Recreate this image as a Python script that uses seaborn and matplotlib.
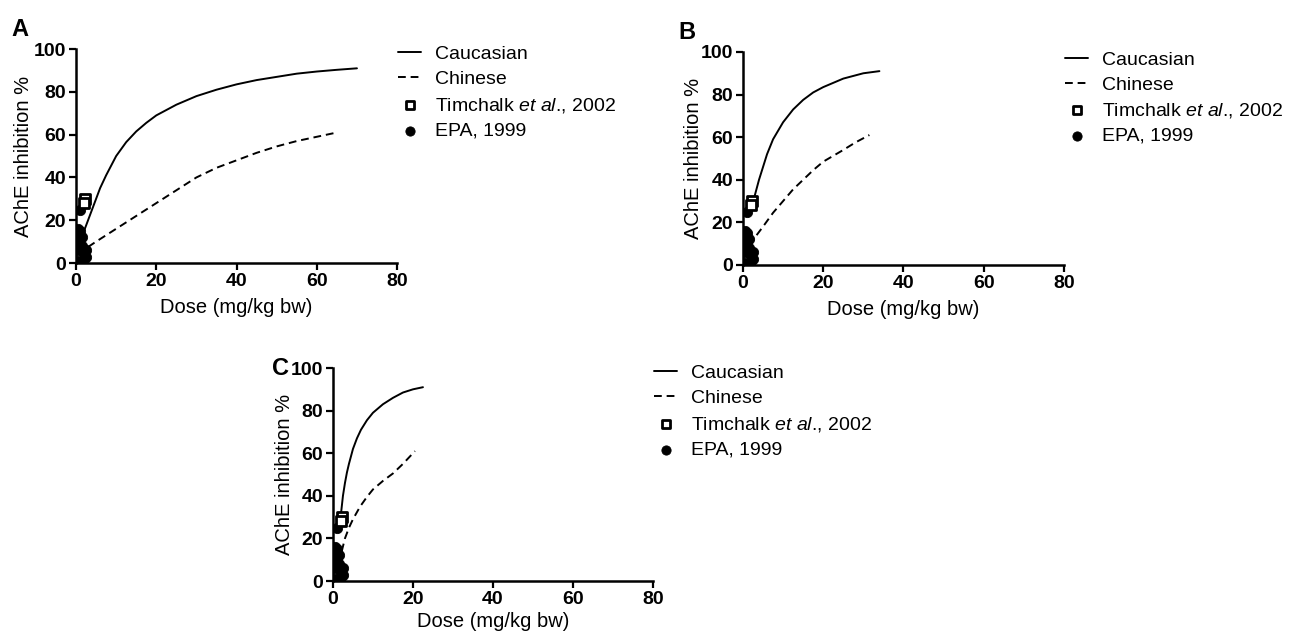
import matplotlib
matplotlib.use('Agg')
import matplotlib.pyplot as plt
import seaborn as sns

# model curves (dose mg/kg bw, AChE inhibition %)
cau_dose_a = [2, 2.5, 3, 4, 5, 6, 7.5, 10, 12.5, 15, 17.5, 20, 25, 30, 35, 40,
              45, 50, 55, 60, 65, 70]
cau_inh_a = [15, 17.5, 20, 25, 30, 35, 41, 50, 56.5, 61.5, 65.5, 69, 74, 78,
             81, 83.5, 85.5, 87, 88.5, 89.5, 90.3, 91]
chi_dose_a = [3, 5, 7.5, 10, 15, 20, 25, 30, 35, 40, 45, 50, 55, 60, 65]
chi_inh_a = [7.5, 10, 13, 16, 22, 28, 34, 40, 44.5, 48, 51.5, 54.5, 57, 59, 61]

cau_dose_b = [2.3, 3, 4, 5, 6, 7.5, 10, 12.5, 15, 17.5, 20, 25, 30, 34]
cau_inh_b = [28, 33, 40, 46, 52, 59, 67, 73, 77.5, 81, 83.5, 87.5, 90, 91]
chi_dose_b = [1.7, 3, 5, 7.5, 10, 12.5, 15, 17.5, 20, 25, 28, 31.5]
chi_inh_b = [9, 13, 18, 24.5, 30, 35.5, 40, 44.5, 48.5, 54, 57.5, 61]

cau_dose_c = [1.8, 2.5, 3, 3.5, 4, 5, 6, 7, 8.5, 10, 12.5, 15, 17.5, 20, 22.5]
cau_inh_c = [28, 40, 46, 51, 55, 62, 67, 71, 75.5, 79, 83, 86, 88.5, 90, 91]
chi_dose_c = [2.2, 3, 4, 5, 6.8, 8.5, 10, 12.5, 15, 17.5, 20.5]
chi_inh_c = [14, 20, 25, 29, 35, 39.5, 43, 47, 50.5, 55, 61]

# observed data (same in all panels)
timchalk_dose = [2.2, 2.0]
timchalk_inh = [30, 28]
epa_dose = [1.0, 0.5, 1.0, 0.4, 1.0, 0.5, 1.5, 2.0, 2.5, 2.0, 2.5, 1.5, 0.3]
epa_inh = [25, 16, 15, 9, 11, 6, 8, 4, 6, 2, 3, 12, 1]

panels = [
    ('A', cau_dose_a, cau_inh_a, chi_dose_a, chi_inh_a),
    ('B', cau_dose_b, cau_inh_b, chi_dose_b, chi_inh_b),
    ('C', cau_dose_c, cau_inh_c, chi_dose_c, chi_inh_c),
]
positions = [
    [0.0588, 0.5845, 0.2483, 0.338],
    [0.5746, 0.5814, 0.2483, 0.3365],
    [0.2575, 0.0821, 0.2475, 0.3365],
]
ylabel_x = [-0.135, -0.125, -0.122]
legend_y = [1.016, 1.005, 1.016]
xlabel_pad = [6, 6, 3]

sns.set_style('ticks')
plt.rcParams['font.family'] = ['Liberation Sans', 'DejaVu Sans']
plt.rcParams['mathtext.fontset'] = 'custom'
plt.rcParams['mathtext.rm'] = 'Liberation Sans'
plt.rcParams['mathtext.it'] = 'Liberation Sans:italic'
for key in ['text.color', 'axes.labelcolor', 'xtick.color', 'ytick.color',
            'axes.edgecolor']:
    plt.rcParams[key] = 'black'

fig = plt.figure(figsize=(12.93, 6.33), dpi=100)

for i, ((letter, cd, ci, hd, hi), pos) in enumerate(zip(panels, positions)):
    ax = fig.add_axes(pos)
    sns.lineplot(x=cd, y=ci, ax=ax, color='black', linewidth=1.4,
                 errorbar=None, label='Caucasian')
    sns.lineplot(x=hd, y=hi, ax=ax, color='black', linewidth=1.4,
                 linestyle=(0, (4, 2.5)), errorbar=None, label='Chinese')
    sns.scatterplot(x=timchalk_dose, y=timchalk_inh, ax=ax, marker='s', s=50,
                    facecolor='white', edgecolor='black', linewidth=2,
                    zorder=4, label='Timchalk $\\mathit{et\\ al}$., 2002')
    sns.scatterplot(x=epa_dose, y=epa_inh, ax=ax, marker='o', s=55,
                    color='black', edgecolor='black', zorder=3,
                    label='EPA, 1999')

    ax.set_xlim(0, 80)
    ax.set_ylim(0, 100)
    ax.set_xticks([0, 20, 40, 60, 80])
    ax.set_yticks([0, 20, 40, 60, 80, 100])
    ax.tick_params(width=1.6, length=5, labelsize=14, pad=2)
    for lab in ax.get_xticklabels() + ax.get_yticklabels():
        lab.set_fontweight('bold')
    for side in ['left', 'bottom']:
        ax.spines[side].set_linewidth(1.8)
    sns.despine(ax=ax)
    ax.set_xlabel('Dose (mg/kg bw)', fontsize=14.5, labelpad=xlabel_pad[i])
    ax.set_ylabel('AChE inhibition %', fontsize=14.5)
    ax.yaxis.set_label_coords(ylabel_x[i], 0.5)

    ax.legend(loc='upper left', bbox_to_anchor=(1.003, legend_y[i]),
              frameon=False, fontsize=14, handlelength=1.2, handletextpad=0.7,
              labelspacing=0.38, borderpad=0, borderaxespad=0, markerscale=0.9)

    if letter == 'C':
        ax.text(-0.19, 1.0, letter, transform=ax.transAxes, fontsize=17,
                fontweight='bold', va='center', ha='left')
    else:
        ax.text(-0.2, 1.09, letter, transform=ax.transAxes, fontsize=17,
                fontweight='bold', va='center', ha='left')

fig.savefig('out.png', dpi=100)
